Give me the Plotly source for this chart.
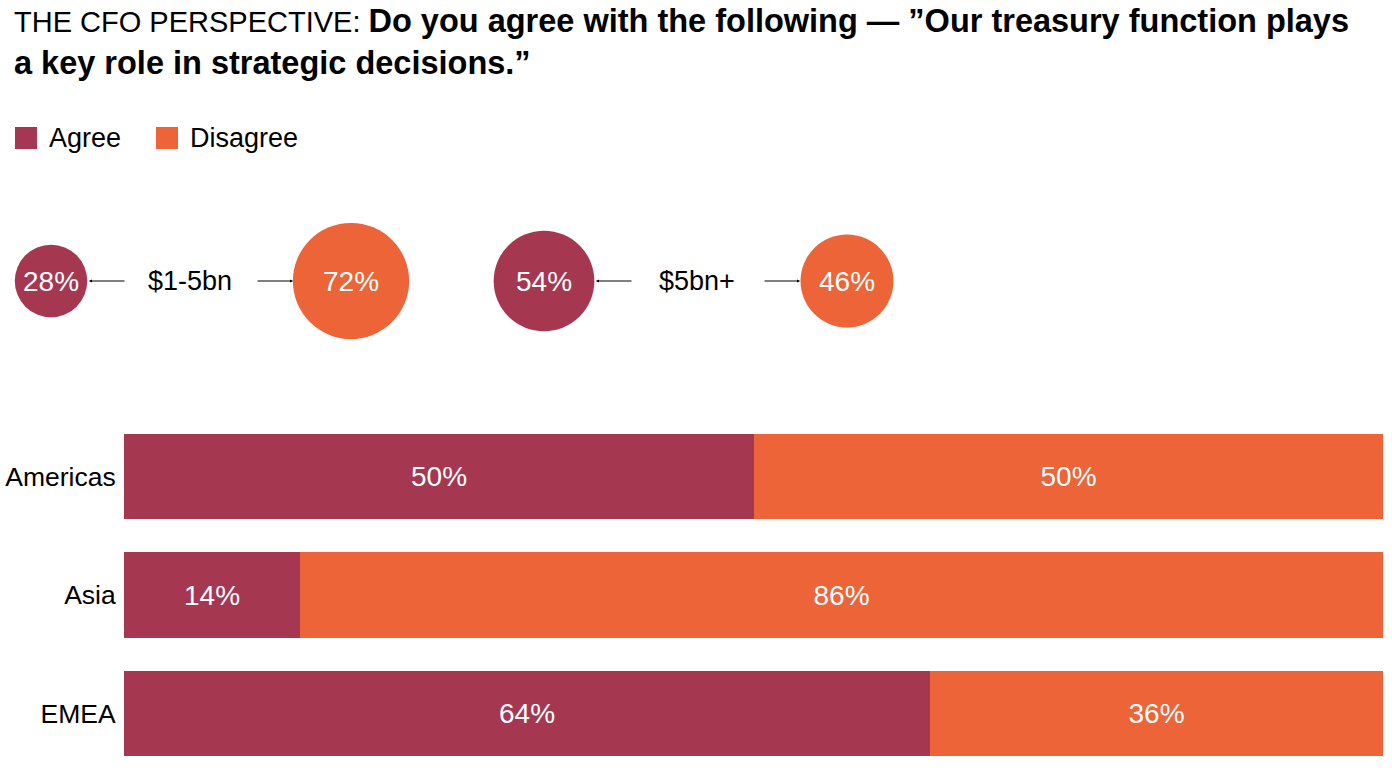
import plotly.graph_objects as go
import math

# ---- data ----
regions = ["Americas", "Asia", "EMEA"]
agree = [50, 14, 64]
disagree = [50, 86, 36]

size_groups = ["$1-5bn", "$5bn+"]
size_agree = [28, 54]
size_disagree = [72, 46]

title_light = "THE CFO PERSPECTIVE: "
title_bold = "Do you agree with the following \u2014 \u201dOur treasury function plays<br>a key role in strategic decisions.\u201d"
legend_labels = ["Agree", "Disagree"]

# ---- style ----
C_AGREE = "#A63751"
C_DIS = "#EC6437"
FONT = "Liberation Sans"
W, H = 1392, 780

fig = go.Figure()

# stacked bars (reverse so Americas on top)
ry = regions[::-1]
for vals, col in [(agree, C_AGREE), (disagree, C_DIS)]:
    fig.add_trace(go.Bar(
        y=ry, x=vals[::-1], orientation="h", marker=dict(color=col, line=dict(width=0)),
        text=[f"{v}%" for v in vals[::-1]], textposition="inside", insidetextanchor="middle",
        textfont=dict(color="white", size=28, family=FONT), width=0.72,
        showlegend=False, hoverinfo="skip"))

# bubbles (area proportional to value) in pixel-space axes
K = 13.7  # diameter px per sqrt(percent)
centers_agree_x = [51, 544]
centers_dis_x = [351, 847]
label_x = [190, 697]
cy = 281
for i, g in enumerate(size_groups):
    vals = [size_agree[i], size_disagree[i]]
    xs = [centers_agree_x[i], centers_dis_x[i]]
    fig.add_trace(go.Scatter(
        x=xs, y=[cy, cy], xaxis="x2", yaxis="y2", mode="markers",
        marker=dict(size=[K * math.sqrt(v) for v in vals], color=[C_AGREE, C_DIS],
                    opacity=1, line=dict(width=0)),
        showlegend=False, hoverinfo="skip"))
    for xv, v in zip(xs, vals):
        fig.add_annotation(x=xv, y=cy, xref="x2", yref="y2", text=f"{v}%", showarrow=False,
                           font=dict(size=28, color="white", family=FONT))
    fig.add_annotation(x=label_x[i], y=cy, xref="x2", yref="y2", text=g, showarrow=False,
                       font=dict(size=27, color="black", family=FONT))
    # left arrow (from label toward agree circle)
    fig.add_annotation(x=label_x[i] - 101, y=cy, ax=label_x[i] - 64, ay=cy,
                       xref="x2", yref="y2", axref="x2", ayref="y2", text="", showarrow=True,
                       arrowhead=2, arrowsize=0.6, arrowwidth=1, arrowcolor="black")
    # right arrow (from label toward disagree circle)
    fig.add_annotation(x=label_x[i] + 103, y=cy, ax=label_x[i] + 66, ay=cy,
                       xref="x2", yref="y2", axref="x2", ayref="y2", text="", showarrow=True,
                       arrowhead=2, arrowsize=0.6, arrowwidth=1, arrowcolor="black")

# title
fig.add_annotation(x=12 / W, y=1 - 1 / H, xref="paper", yref="paper", xanchor="left", yanchor="top",
                   align="left", showarrow=False,
                   text=f"<span style='font-size:29px'>{title_light}</span><b>{title_bold}</b>",
                   font=dict(size=32.5, color="black", family=FONT))

# legend (manual)
leg_x = [15, 156]
for lx, lab, col in zip(leg_x, legend_labels, [C_AGREE, C_DIS]):
    fig.add_shape(type="rect", xref="paper", yref="paper",
                  x0=lx / W, x1=(lx + 22) / W, y0=1 - 149 / H, y1=1 - 127 / H,
                  fillcolor=col, line=dict(width=0))
    fig.add_annotation(x=(lx + 32) / W, y=1 - 138 / H, xref="paper", yref="paper",
                       xanchor="left", yanchor="middle", showarrow=False, text=lab,
                       font=dict(size=27, color="black", family=FONT))

fig.update_layout(
    width=W, height=H, margin=dict(l=0, r=0, t=0, b=0, autoexpand=False),
    paper_bgcolor="white", plot_bgcolor="rgba(0,0,0,0)",
    barmode="stack", bargap=0,
    xaxis=dict(domain=[124 / W, 1383 / W], range=[0, 100], visible=False, fixedrange=True),
    yaxis=dict(domain=[(H - 756) / H, (H - 434) / H], range=[-0.36, 2.36], showgrid=False,
               zeroline=False, showline=False, ticks="outside", ticklen=2, tickcolor="rgba(0,0,0,0)",
               tickfont=dict(size=26.5, color="black", family=FONT), fixedrange=True, automargin=False),
    xaxis2=dict(domain=[0, 1], range=[0, W], visible=False, anchor="y2"),
    yaxis2=dict(domain=[0, 1], range=[H, 0], visible=False, anchor="x2"),
)

fig.write_html("out.html", config={"displayModeBar": False},
               post_script="document.body.style.margin='0px';document.body.style.overflow='hidden';")
